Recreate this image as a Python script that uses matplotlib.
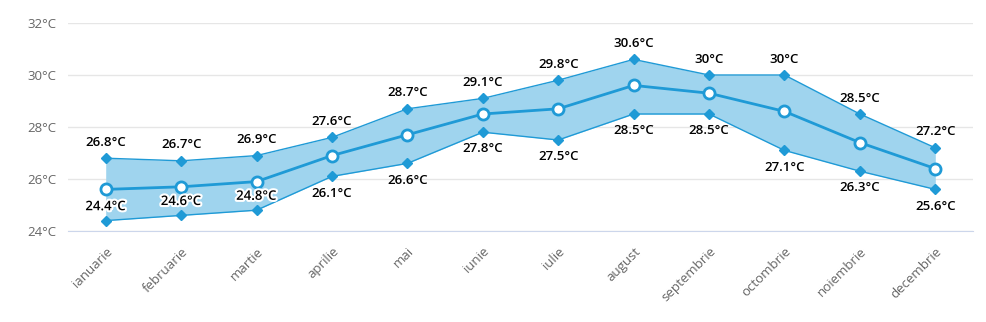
import numpy as np
import matplotlib.pyplot as plt
import matplotlib.patheffects as pe

months = ['ianuarie', 'februarie', 'martie', 'aprilie', 'mai', 'iunie', 'iulie',
          'august', 'septembrie', 'octombrie', 'noiembrie', 'decembrie']
t_high = [26.8, 26.7, 26.9, 27.6, 28.7, 29.1, 29.8, 30.6, 30.0, 30.0, 28.5, 27.2]
t_low = [24.4, 24.6, 24.8, 26.1, 26.6, 27.8, 27.5, 28.5, 28.5, 27.1, 26.3, 25.6]
t_mean = [25.6, 25.7, 25.9, 26.9, 27.7, 28.5, 28.7, 29.6, 29.3, 28.6, 27.4, 26.4]
y_ticks = [24, 26, 28, 30, 32]

plt.rcParams['font.family'] = ['Open Sans', 'DejaVu Sans']

blue = '#1f9ad6'
fill = '#9fd4ee'

fig = plt.figure(figsize=(9.86, 3.22), dpi=100)
ax = fig.add_axes([68 / 986, 1 - 231 / 322, (973 - 68) / 986, (231 - 23) / 322])

x = np.arange(len(months))
ax.fill_between(x, t_low, t_high, color=fill, lw=0, zorder=1)
ax.plot(x, t_high, color=blue, lw=1, marker='D', ms=5, zorder=3)
ax.plot(x, t_low, color=blue, lw=1, marker='D', ms=5, zorder=3)
ax.plot(x, t_mean, color=blue, lw=2, marker='o', ms=8, mfc='white', mec=blue, mew=2, zorder=4)


def fmt(v):
    return ('%g' % v) + '°C'


for i in x:
    ax.annotate(fmt(t_high[i]), (i, t_high[i]), xytext=(0, 11.5), textcoords='offset points',
                ha='center', va='center', fontsize=9.5, weight='semibold', color='black', zorder=5)
    inside = t_low[i] - 24 < 1.5
    off = 10 if inside else -12
    txt = ax.annotate(fmt(t_low[i]), (i, t_low[i]), xytext=(0, off), textcoords='offset points',
                      ha='center', va='center', fontsize=9.5, weight='semibold', color='black', zorder=5)
    if inside:
        txt.set_path_effects([pe.withStroke(linewidth=3, foreground='white')])

ax.set_xlim(-0.5, len(months) - 0.5)
ax.set_ylim(24, 32)
ax.set_yticks(y_ticks)
ax.set_yticklabels([fmt(v) for v in y_ticks], color='#666666', fontsize=9.5)
ax.set_xticks(x)
ax.set_xticklabels(months, rotation=45, ha='right', rotation_mode='anchor',
                   color='#666666', fontsize=9.5)
ax.tick_params(axis='both', length=0, pad=8)
ax.tick_params(axis='x', pad=10)

ax.grid(axis='y', color='#e6e6e6', lw=1, zorder=0)
ax.set_axisbelow(True)
for s in ['top', 'right', 'left']:
    ax.spines[s].set_visible(False)
ax.spines['bottom'].set_color('#ccd6eb')

plt.savefig('out.png', dpi=100)
